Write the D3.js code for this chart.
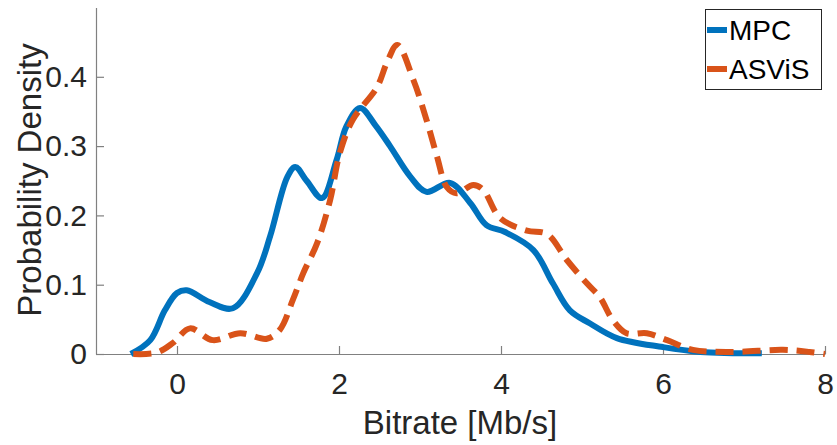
<!DOCTYPE html>
<html>
<head>
<meta charset="utf-8">
<script src="https://cdn.jsdelivr.net/npm/d3@7"></script>
<style>
  body { margin: 0; background: #fff; }
  text { font-family: "Liberation Sans", Arial, sans-serif; }
</style>
</head>
<body>
<script>
// kernel density estimates
var mpcX = [-0.57, -0.33, -0.15, 0.0, 0.12, 0.4, 0.69, 0.99, 1.15, 1.36, 1.46, 1.6, 1.79, 1.97, 2.09, 2.26, 2.45, 2.63, 2.88, 3.08, 3.37, 3.62, 3.82, 4.05, 4.4, 4.64, 4.85, 5.1, 5.43, 6.0, 6.46, 7.22];
var mpcY = [0.0, 0.02, 0.063, 0.088, 0.092, 0.075, 0.066, 0.117, 0.17, 0.255, 0.27, 0.25, 0.225, 0.28, 0.328, 0.355, 0.33, 0.3, 0.256, 0.234, 0.247, 0.218, 0.186, 0.176, 0.15, 0.102, 0.063, 0.044, 0.023, 0.01, 0.003, 0.001];

var asvisX = [-0.54, -0.25, -0.05, 0.16, 0.44, 0.78, 1.11, 1.27, 1.43, 1.56, 1.73, 1.89, 2.01, 2.17, 2.47, 2.59, 2.72, 2.92, 3.08, 3.21, 3.33, 3.45, 3.66, 3.78, 3.99, 4.32, 4.57, 4.81, 5.06, 5.22, 5.38, 5.55, 5.8, 6.05, 6.37, 6.86, 7.48, 7.81, 8.0];
var asvisY = [0.0, 0.002, 0.016, 0.037, 0.02, 0.03, 0.022, 0.035, 0.078, 0.117, 0.16, 0.222, 0.29, 0.338, 0.385, 0.42, 0.446, 0.395, 0.338, 0.285, 0.241, 0.232, 0.244, 0.237, 0.196, 0.178, 0.173, 0.136, 0.102, 0.082, 0.049, 0.03, 0.03, 0.02, 0.006, 0.003, 0.006, 0.003, 0.0];

var xTicks = [0, 2, 4, 6, 8];
var yTicks = [0, 0.1, 0.2, 0.3, 0.4];
var seriesNames = ["MPC", "ASViS"];
var colors = ["#0072BD", "#D95319"];

var W = 837, H = 445;
var svg = d3.select("body").append("svg").attr("width", W).attr("height", H);

var x = d3.scaleLinear().domain([-1, 8]).range([96, 825]);
var y = d3.scaleLinear().domain([0, 0.5]).range([354, 7.5]);

var axisColor = "#808080", textColor = "#262626";

// axes (box off, ticks inside)
var xAxis = svg.append("g").attr("transform", "translate(0,354)")
    .call(d3.axisBottom(x).tickValues(xTicks).tickSize(-8).tickSizeOuter(0).tickPadding(19).tickFormat(d3.format("d")));
var yAxis = svg.append("g").attr("transform", "translate(96,0)")
    .call(d3.axisLeft(y).tickValues(yTicks).tickSize(-8).tickSizeOuter(0).tickPadding(9).tickFormat(d => d === 0 ? "0" : d3.format(".1f")(d)));

[xAxis, yAxis].forEach(function(a) {
    a.select(".domain").attr("stroke", axisColor).attr("stroke-width", 1.2);
    a.selectAll(".tick line").attr("stroke", axisColor).attr("stroke-width", 1.2);
    a.selectAll(".tick text").attr("fill", textColor).style("font-size", "30px")
        .style("font-family", "Liberation Sans, Arial, sans-serif");
});

svg.append("text").attr("x", 460).attr("y", 434).attr("text-anchor", "middle")
    .attr("fill", textColor).style("font-size", "33px").text("Bitrate [Mb/s]");
svg.append("text").attr("transform", "translate(41,180) rotate(-90)").attr("text-anchor", "middle")
    .attr("fill", textColor).style("font-size", "33px").text("Probability Density");

var line = d3.line().x(d => x(d[0])).y(d => y(d[1])).curve(d3.curveCatmullRom.alpha(0.5));

var mpc = mpcX.map((v, i) => [v, mpcY[i]]);
var asvis = asvisX.map((v, i) => [v, asvisY[i]]);

svg.append("path").datum(mpc).attr("d", line).attr("fill", "none")
    .attr("stroke", colors[0]).attr("stroke-width", 6).attr("stroke-linejoin", "round");
svg.append("path").datum(asvis).attr("d", line).attr("fill", "none")
    .attr("stroke", colors[1]).attr("stroke-width", 6).attr("stroke-dasharray", "18,9");

// legend
var lg = svg.append("g");
lg.append("rect").attr("x", 705.5).attr("y", 9.5).attr("width", 116).attr("height", 80)
    .attr("fill", "#fff").attr("stroke", textColor).attr("stroke-width", 1);
seriesNames.forEach(function(n, i) {
    var cy = 30 + i * 39;
    lg.append("line").attr("x1", 707).attr("x2", 727).attr("y1", cy).attr("y2", cy)
        .attr("stroke", colors[i]).attr("stroke-width", 6);
    lg.append("text").attr("x", 729).attr("y", cy + 10).attr("fill", "#000")
        .style("font-size", "28px").text(n);
});
</script>
</body>
</html>
